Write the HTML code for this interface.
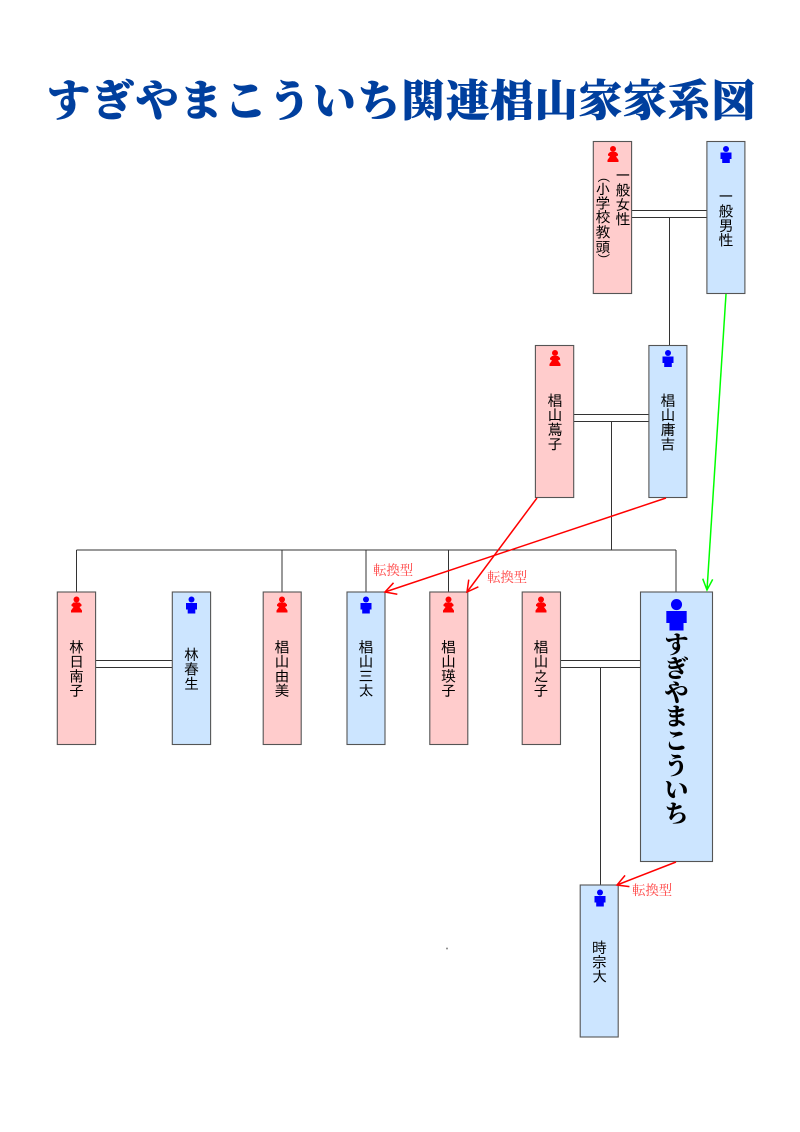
<!DOCTYPE html>
<html lang="ja">
<head>
<meta charset="utf-8">
<style>
html,body{margin:0;padding:0;background:#fff}
svg{display:block}
.b{stroke:#555;stroke-width:1.1}
.f{fill:#ffcccc}
.m{fill:#cce5ff}
.l{stroke:#333;stroke-width:1;fill:none}
.n{font-family:"IPAGothic","Noto Sans CJK JP",sans-serif;font-size:15px;fill:#000;text-anchor:middle}
.r{font-family:"Liberation Serif","Noto Serif CJK SC",serif;font-size:13.4px;fill:#f44}
.big{font-family:"Noto Serif CJK SC",serif;font-weight:900;font-size:24px;fill:#000;text-anchor:middle}
.t{font-family:"Noto Serif CJK SC",serif;font-weight:900;font-size:43px;fill:#003f9e;stroke:#003f9e;stroke-width:.7}
</style>
</head>
<body>
<svg width="800" height="1132" viewBox="0 0 800 1132" xmlns="http://www.w3.org/2000/svg">
<defs>
<g id="fi"><circle cx="0" cy="3" r="3" fill="#f00"/><path d="M-3 6H3L5 8V9.500L3 10.500L5.500 14V16H-5.500V14L-3 10.500L-5 9.500V8Z" fill="#f00"/></g>
<g id="mi"><circle cx="0" cy="3" r="3" fill="#00f"/><path d="M-5.500 6.500H5.500V13H3.800V17H-3.800V13H-5.500Z" fill="#00f"/></g>
<marker id="ra" markerUnits="userSpaceOnUse" markerWidth="16" markerHeight="16" refX="14" refY="8" orient="auto"><path d="M3 2L14 8L3 14" fill="none" stroke="#f00" stroke-width="1.500"/></marker>
<marker id="ga" markerUnits="userSpaceOnUse" markerWidth="16" markerHeight="16" refX="14" refY="8" orient="auto"><path d="M3 3L14 8L3 13" fill="none" stroke="#0f0" stroke-width="1.500"/></marker>
</defs>

<text class="t" x="47" y="116" textLength="708" lengthAdjust="spacing">すぎやまこういち関連椙山家家系図</text>

<path class="l" d="M632 210.500H707M632 217.500H707M669.500 218V345.500"/>
<path class="l" d="M574 414.500H649M574 421.500H649M611.500 422V550"/>
<path class="l" d="M76.500 550H676M76.500 550V592M282 550V592M366 550V592M448.500 550V592M676 550V592"/>
<path class="l" d="M95.500 660.500H172.500M95.500 667.500H172.500"/>
<path class="l" d="M560.500 660.500H640.500M560.500 667.500H640.500M600.500 668V885"/>

<rect class="b f" x="593.300" y="141.500" width="38.300" height="152"/>
<rect class="b m" x="706.900" y="141.500" width="38" height="152"/>
<rect class="b f" x="535.400" y="345.500" width="38.300" height="152"/>
<rect class="b m" x="648.900" y="345.500" width="38" height="152"/>
<rect class="b f" x="57.300" y="592" width="38.300" height="152.500"/>
<rect class="b m" x="172.300" y="592" width="38.300" height="152.500"/>
<rect class="b f" x="263.200" y="592" width="38" height="152.500"/>
<rect class="b m" x="347" y="592" width="38" height="152.500"/>
<rect class="b f" x="429.800" y="592" width="38" height="152.500"/>
<rect class="b f" x="522.200" y="592" width="38.300" height="152.500"/>
<rect class="b m" x="640.500" y="592" width="72" height="269.500"/>
<rect class="b m" x="580.200" y="885" width="38" height="152"/>

<use href="#fi" x="613" y="146"/>
<use href="#mi" x="726" y="146"/>
<use href="#fi" x="555" y="350"/>
<use href="#mi" x="668" y="350"/>
<use href="#fi" x="76.500" y="596.500"/>
<use href="#mi" x="191.500" y="596.500"/>
<use href="#fi" x="282" y="596.500"/>
<use href="#mi" x="366" y="596.500"/>
<use href="#fi" x="448.500" y="596.500"/>
<use href="#fi" x="541" y="596.500"/>
<use href="#mi" x="600" y="889.500"/>
<g transform="translate(676.500 599) scale(1.85)"><use href="#mi"/></g>

<g class="n">
<text x="623" y="181">一</text><text x="623" y="195.500">般</text><text x="623" y="210">女</text><text x="623" y="224.500">性</text>
<text transform="translate(603 180) rotate(90)" y="4" style="font-size:13px">(</text>
<text x="603" y="194.500">小</text><text x="603" y="208.500">学</text><text x="603" y="222.500">校</text><text x="603" y="237.500">教</text><text x="603" y="252.500">頭</text>
<text transform="translate(603 256) rotate(90)" y="4" style="font-size:13px">)</text>
<text x="726" y="202">一</text><text x="726" y="216.500">般</text><text x="726" y="231">男</text><text x="726" y="245.500">性</text>
<text x="555" y="406">椙</text><text x="555" y="420.500">山</text><text x="555" y="435">蔦</text><text x="555" y="449.500">子</text>
<text x="668" y="406">椙</text><text x="668" y="420.500">山</text><text x="668" y="435">庸</text><text x="668" y="449.500">吉</text>
<text x="76.500" y="652.500">林</text><text x="76.500" y="667">日</text><text x="76.500" y="681.500">南</text><text x="76.500" y="696">子</text>
<text x="191.500" y="660">林</text><text x="191.500" y="674.500">春</text><text x="191.500" y="689">生</text>
<text x="282" y="652.500">椙</text><text x="282" y="667">山</text><text x="282" y="681.500">由</text><text x="282" y="696">美</text>
<text x="366" y="652.500">椙</text><text x="366" y="667">山</text><text x="366" y="681.500">三</text><text x="366" y="696">太</text>
<text x="448.500" y="652.500">椙</text><text x="448.500" y="667">山</text><text x="448.500" y="681.500">瑛</text><text x="448.500" y="696">子</text>
<text x="541" y="652.500">椙</text><text x="541" y="667">山</text><text x="541" y="681.500">之</text><text x="541" y="696">子</text>
<text x="599.500" y="953">時</text><text x="599.500" y="967.500">宗</text><text x="599.500" y="982">大</text>
</g>

<g class="big">
<text x="676.500" y="653">す</text><text x="676.500" y="677">ぎ</text><text x="676.500" y="701">や</text><text x="676.500" y="725">ま</text><text x="676.500" y="749">こ</text><text x="676.500" y="774">う</text><text x="676.500" y="798">い</text><text x="676.500" y="822">ち</text>
</g>

<path d="M726 294L707 590" stroke="#0f0" stroke-width="1.500" fill="none" marker-end="url(#ga)"/>
<path d="M666 498L385 592" stroke="#f00" stroke-width="1.500" fill="none" marker-end="url(#ra)"/>
<path d="M537 498L467 592" stroke="#f00" stroke-width="1.500" fill="none" marker-end="url(#ra)"/>
<path d="M676 862L617 885" stroke="#f00" stroke-width="1.500" fill="none" marker-end="url(#ra)"/>

<text class="r" x="373" y="575">転換型</text>
<text class="r" x="487" y="582">転換型</text>
<text class="r" x="632" y="895">転換型</text>
<circle cx="447" cy="948.500" r="1" fill="#888"/>
</svg>
</body>
</html>
